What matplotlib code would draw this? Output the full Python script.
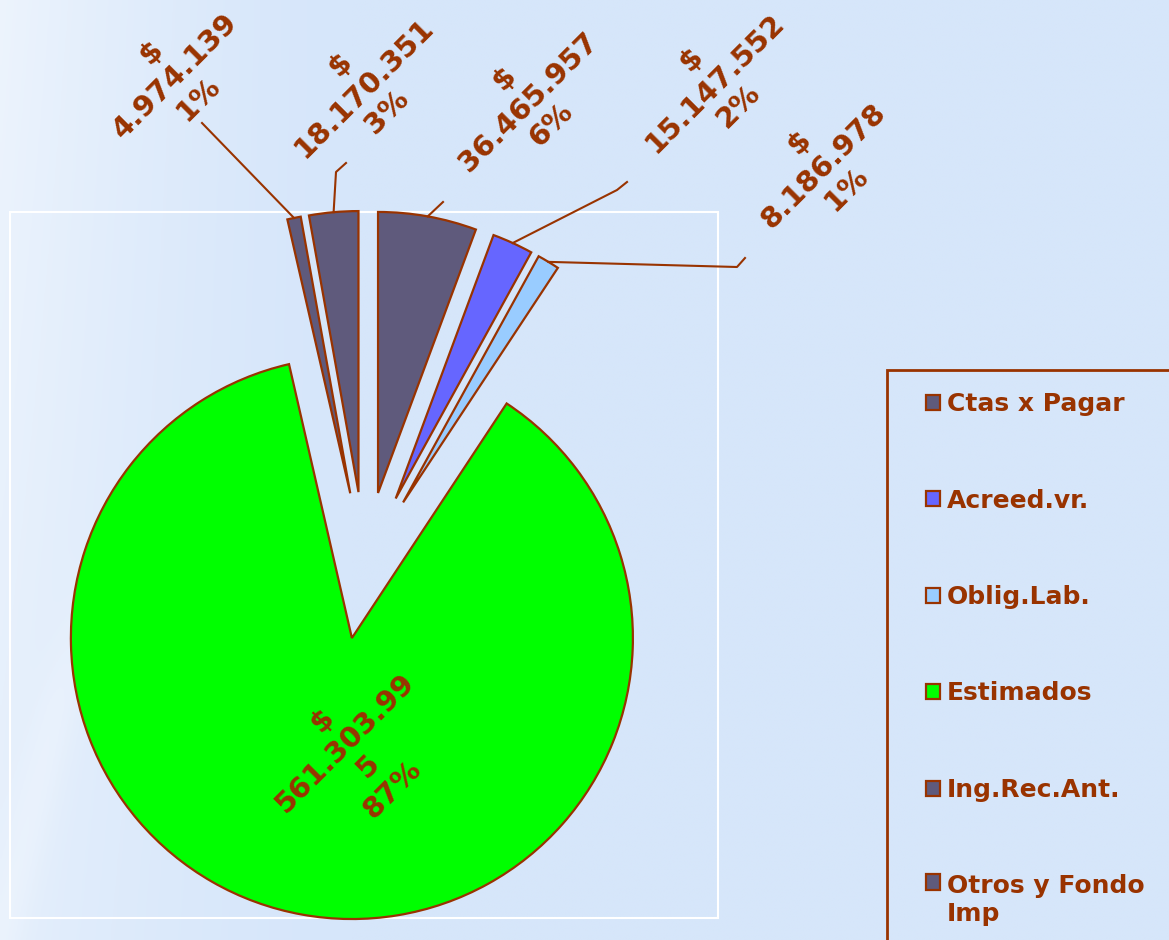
import matplotlib
matplotlib.use('Agg')
import matplotlib.pyplot as plt
import numpy as np
from matplotlib.patches import Rectangle

# data
categories = ['Ctas x Pagar', 'Acreed.vr.', 'Oblig.Lab.', 'Estimados',
              'Ing.Rec.Ant.', 'Otros y Fondo\nImp']
values = [36465957, 15147552, 8186978, 561303995, 4974139, 18170351]
colors = ['#5F5A7C', '#6666FF', '#99CCFF', '#00FF00', '#5F5A7C', '#5F5A7C']

W, H = 1169, 940
brown = '#993300'
bg = np.array([214, 230, 250]) / 255.


def px(x, y):
    # pixel coords (y down) -> data coords (y up)
    return x, H - y


# label layout (pixel coords)
label_pos = [(528, 102), (715, 83), (823, 166), (357, 755), (175, 76), (364, 88)]
leader_pts = [
    [(443, 202)],
    [(617, 190), (627, 182)],
    [(737, 267), (745, 258)],
    None,
    [(202, 123)],
    [(336, 172), (346, 163)],
]
line_pitch = 33

fig = plt.figure(figsize=(W / 100, H / 100), dpi=100)
fig.patch.set_facecolor(bg)
ax = fig.add_axes([0, 0, 1, 1])

# background: lighter toward the left edge
xs = np.linspace(0, 1, 400)
ys = np.linspace(0, 1, 300)
X, Y = np.meshgrid(xs, ys)
f = np.clip(1 - X / 0.3, 0, 1) ** 1.5 * 0.5 * (1.1 - 0.4 * Y)
band = np.exp(-((X - 0.05 + (Y - 0.75) * 0.2) / 0.02) ** 2) * np.clip((Y - 0.55) / 0.2, 0, 1) * 0.15
f = np.clip(f + band, 0, 1)
white = np.array([1.0, 1.0, 1.0])
grad = bg[None, None, :] * (1 - f[..., None]) + white[None, None, :] * f[..., None]
ax.imshow(grad, extent=(0, W, 0, H), origin='upper', zorder=0, aspect='auto')

# plot area frame
x0, y0 = px(10, 918)
ax.add_patch(Rectangle((x0, y0), 708, 706, fill=False, edgecolor='white',
                       linewidth=1.5, zorder=1))

radius = 281
center = px(365, 565.5)
explode = [73.7] * len(values)   # pie offsets are in data units
wedges, _ = ax.pie(values, colors=colors, startangle=90, counterclock=False,
                   explode=explode, radius=radius, center=center,
                   wedgeprops=dict(edgecolor=brown, linewidth=1.6, zorder=2))

total = sum(values)
down = np.array([np.sin(np.pi / 4), -np.cos(np.pi / 4)])  # "next line" direction at 45 deg
for w, v, lp, pts in zip(wedges, values, label_pos, leader_pts):
    num = f'{v:,}'.replace(',', '.')
    lines = ['$', num[:10]] + ([num[10:]] if len(num) > 10 else [])
    lines.append(f'{round(v / total * 100)}%')
    c = np.array(px(*lp), dtype=float)
    n = len(lines)
    for i, s in enumerate(lines):
        x, y = c + (i - (n - 1) / 2) * line_pitch * down
        ax.text(x, y, s, rotation=45, rotation_mode='anchor',
                ha='center', va='center', fontsize=21, fontweight='bold',
                color=brown, zorder=4)
    if pts:
        mid = np.deg2rad((w.theta1 + w.theta2) / 2)
        cx, cy = w.center
        sx, sy = cx + w.r * np.cos(mid), cy + w.r * np.sin(mid)
        lxs = [sx] + [p[0] for p in pts]
        lys = [sy] + [H - p[1] for p in pts]
        ax.plot(lxs, lys, color=brown, linewidth=1.5, zorder=3)

ax.set_xlim(0, W)
ax.set_ylim(0, H)
ax.set_aspect('auto')
ax.axis('off')

# legend frame (runs off the right/bottom edge)
lx0, ly0 = px(887, 950)
ax.add_patch(Rectangle((lx0, ly0), 320, 580, fill=False, edgecolor=brown,
                       linewidth=2, zorder=3))
leg = ax.legend(wedges, categories, loc='upper left',
                bbox_to_anchor=px(926, 392), bbox_transform=ax.transData,
                frameon=False, borderpad=0, borderaxespad=0,
                handlelength=0.56, handleheight=0.56, handletextpad=0.28,
                labelspacing=2.9, prop=dict(size=18, weight='bold'))
for t in leg.get_texts():
    t.set_color(brown)
# two-line entry: keep its marker next to the first line
try:
    rows = leg._legend_handle_box.get_children()[0].get_children()
    rows[-1].align = 'top'
except Exception:
    pass

fig.savefig('out.png', dpi=100, facecolor=fig.get_facecolor())
